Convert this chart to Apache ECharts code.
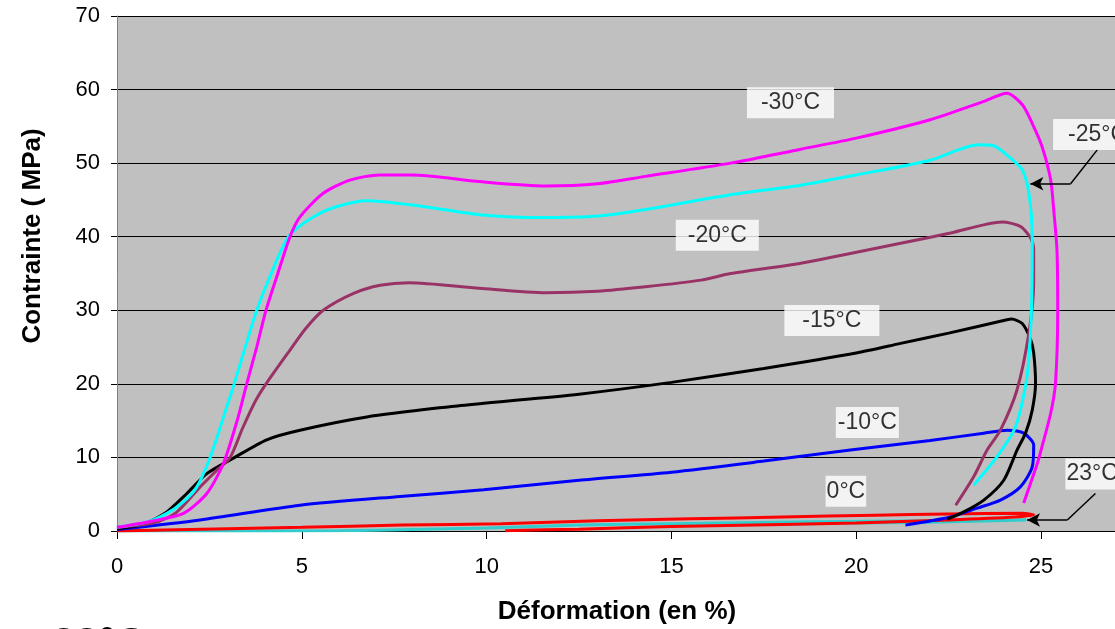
<!DOCTYPE html>
<html>
<head>
<meta charset="utf-8">
<script src="https://cdn.jsdelivr.net/npm/echarts@6/dist/echarts.min.js"></script>
<style>
  html, body { margin: 0; padding: 0; background: #fff; }
  #main { width: 1115px; height: 629px; }
</style>
</head>
<body>
<div id="main"></div>
<script>
// courbes contrainte / deformation, [deformation %, contrainte MPa]
const curve23 = [[0, 0], [3, 0], [6, 0.05], [8, 0.2], [10, 0.4], [12.5, 0.8], [15, 1.0], [18.8, 1.25], [22, 1.4], [24.6, 1.5], [22, 1.2], [18, 0.95], [15, 0.7]];
const curve0 = [[0, 0], [3, 0.3], [5, 0.5], [7.7, 0.8], [10.4, 1.0], [13, 1.4], [15.5, 1.65], [18, 1.9], [20.5, 2.15], [22.5, 2.3], [24.5, 2.4], [24.8, 2.2], [24.3, 1.9], [22.5, 1.5], [20, 1.1], [18, 0.9], [15, 0.6], [12.5, 0.25], [10.5, 0.05]];
const curveM10 = [[0, 0.2], [2.25, 1.5], [4.95, 3.5], [7.66, 4.7], [9.92, 5.6], [12.5, 6.9], [15, 8.0], [17.5, 9.5], [19.84, 11], [22, 12.3], [23.45, 13.3], [24.08, 13.7], [24.53, 13.3], [24.8, 11.7], [24.76, 8.7], [24.44, 6], [23.9, 4.2], [23.27, 3.1], [22.55, 1.9], [21.33, 0.8]];
const curveM15 = [[0, 0.3], [0.7, 0.9], [1.35, 2.6], [1.89, 5.1], [2.43, 7.8], [3.15, 9.9], [4.05, 12.4], [4.95, 13.7], [6.76, 15.5], [9, 16.9], [10, 17.4], [12.5, 18.6], [15, 20.2], [17.5, 22.1], [20, 24.2], [21.2, 25.5], [22.5, 26.9], [23.9, 28.5], [24.2, 28.8], [24.49, 28.2], [24.72, 26], [24.8, 24.2], [24.85, 20.1], [24.76, 16.4], [24.58, 13.3], [24.35, 11], [23.99, 6.9], [23.45, 4.2], [22.91, 2.6], [22.46, 1.6]];
const curveM20 = [[0, 0.5], [1, 1.1], [1.6, 2.5], [2.25, 6], [2.65, 8], [3.06, 10], [3.4, 14], [3.76, 17.8], [4.1, 20.5], [4.68, 24.6], [5.1, 27.5], [5.58, 30], [6.4, 32.3], [7.12, 33.4], [7.9, 33.75], [9.8, 33], [11.6, 32.4], [13, 32.6], [14.3, 33.2], [15.8, 34.1], [16.6, 35], [18.5, 36.4], [21.2, 39.1], [22.55, 40.5], [23.95, 42], [24.44, 41.4], [24.72, 39.8], [24.8, 38.2], [24.8, 33.7], [24.67, 26.9], [24.35, 19.2], [23.9, 13.7], [23.54, 11], [23.18, 7.4], [22.69, 3.5]];
const curveM25 = [[0, 0.5], [0.8, 1.2], [1.35, 2.4], [1.8, 4], [2.16, 6], [2.52, 10], [2.85, 15], [3.17, 20], [3.47, 25], [3.78, 30], [4.14, 34.6], [4.64, 40], [5.32, 42.7], [5.95, 44.1], [6.76, 44.9], [8, 44.3], [9.8, 43], [11.6, 42.6], [13, 42.8], [14.3, 43.7], [16.6, 45.7], [18.5, 47], [20, 48.4], [22, 50.4], [23.3, 52.5], [23.7, 52.4], [24.17, 50.7], [24.49, 49.1], [24.67, 45.9], [24.76, 40], [24.74, 30], [24.62, 21], [24.31, 14.2], [23.81, 10.1], [23.18, 6.25]];
const curveM30 = [[0, 0.5], [0.9, 1.3], [1.8, 2.4], [2.43, 5.1], [2.88, 9.2], [3.25, 15], [3.51, 20], [3.78, 25], [4.03, 30], [4.35, 35], [4.68, 40], [4.95, 42.7], [5.58, 45.9], [6.3, 47.7], [7.1, 48.4], [8, 48.4], [9.8, 47.5], [11.6, 46.9], [13, 47.2], [14.3, 48.2], [16.6, 50], [18.5, 51.9], [20, 53.4], [22, 55.9], [23.4, 58.3], [24.08, 59.5], [24.5, 57.9], [24.76, 55.4], [25.03, 52.2], [25.26, 47.7], [25.35, 43.2], [25.43, 38.2], [25.45, 30], [25.39, 20.1], [25.26, 16], [25.0, 11], [24.9, 9.2], [24.53, 3.8]];

// etiquettes des courbes : [texte, x, y]
const tempLabels = [
  ["-30°C", 18.22, 58.2],
  ["-25°C", 26.53, 53.9],
  ["-20°C", 16.24, 40.2],
  ["-15°C", 19.34, 28.6],
  ["-10°C", 20.3, 14.75],
  ["0°C", 19.72, 5.4],
  ["23°C", 26.38, 7.75]
];
const labelPad = [[4, 14], [4, 15], [4, 12], [4, 18], [4, 2], [4, 1], [4, 1]];

// fleches : [depart, coude, pointe]
const arrow25 = [[26.52, 51.8], [25.8, 47.2], [24.71, 47.2]];
const arrow23 = [[26.47, 5.1], [25.71, 1.5], [24.62, 1.5]];

const xTicks = { min: 0, max: 27, interval: 5 };
const yTicks = { min: 0, max: 70, interval: 10 };

const font = "Arial, 'Liberation Sans', sans-serif";

let chartDom = document.getElementById("main");
let myChart = echarts.init(chartDom);

function curve(name, data, color) {
  return {
    name: name,
    type: "line",
    data: data,
    smooth: 0.25,
    showSymbol: false,
    symbol: "none",
    lineStyle: { color: color, width: 3 },
    itemStyle: { color: color },
    animation: false,
    z: 3,
  };
}

function arrowLines(pts) {
  return [
    [{ coord: pts[0], symbol: "none" }, { coord: pts[1], symbol: "none" }],
    [{ coord: pts[1], symbol: "none" }, { coord: pts[2], symbol: "arrow", symbolSize: [10, 13] }],
  ];
}

let option = {
  backgroundColor: "#ffffff",
  animation: false,
  grid: { left: 117, top: 16, right: 0, bottom: 98, show: true, backgroundColor: "#c0c0c0", borderWidth: 0 },
  xAxis: {
    type: "value",
    min: xTicks.min,
    max: xTicks.max,
    interval: xTicks.interval,
    axisLine: { onZero: false, lineStyle: { color: "#000", width: 1 } },
    axisTick: { show: true, inside: false, length: 8, lineStyle: { color: "#000" } },
    axisLabel: { showMaxLabel: false, margin: 25, color: "#000", fontSize: 22, fontFamily: font },
    splitLine: { show: false },
  },
  yAxis: {
    type: "value",
    min: yTicks.min,
    max: yTicks.max,
    interval: yTicks.interval,
    axisLine: { show: true, onZero: false, lineStyle: { color: "#808080", width: 1 } },
    axisTick: { show: true, inside: false, length: 6, lineStyle: { color: "#000" } },
    axisLabel: { margin: 17, color: "#000", fontSize: 22, fontFamily: font },
    splitLine: { show: true, lineStyle: { color: "#000", width: 1 } },
  },
  graphic: [
    {
      type: "text",
      x: 33,
      y: 236,
      rotation: Math.PI / 2,
      style: { text: "Contrainte ( MPa)", fill: "#000", font: "bold 26px " + font, align: "center", verticalAlign: "middle" },
    },
    {
      type: "text",
      x: 617,
      y: 612,
      style: { text: "Déformation (en %)", fill: "#000", font: "bold 26px " + font, align: "center", verticalAlign: "middle" },
    },
    {
      type: "text",
      x: 52,
      y: 624,
      style: { text: "23°C", fill: "#000", font: "bold 42px " + font, align: "left", verticalAlign: "top" },
    },
  ],
  series: [
    curve("23°C", curve23, "#33cccc"),
    curve("0°C", curve0, "#ff0000"),
    curve("-10°C", curveM10, "#0000ff"),
    curve("-15°C", curveM15, "#000000"),
    curve("-20°C", curveM20, "#993366"),
    curve("-25°C", curveM25, "#00ffff"),
    curve("-30°C", curveM30, "#ff00ff"),
    {
      name: "fleches",
      type: "line",
      data: [],
      markLine: {
        silent: true,
        animation: false,
        label: { show: false },
        lineStyle: { color: "#000", width: 1.5, type: "solid" },
        data: arrowLines(arrow25).concat(arrowLines(arrow23)),
      },
      z: 5,
    },
    {
      name: "etiquettes",
      type: "scatter",
      symbolSize: 0,
      silent: true,
      z: 6,
      data: tempLabels.map(function (l, i) {
        return {
          value: [l[1], l[2]],
          label: {
            show: true,
            position: "inside",
            formatter: l[0],
            color: "#000",
            fontSize: 23,
            fontFamily: font,
            backgroundColor: "#ffffff",
            padding: labelPad[i],
          },
        };
      }),
    },
  ],
};

option && myChart.setOption(option);
</script>
</body>
</html>
